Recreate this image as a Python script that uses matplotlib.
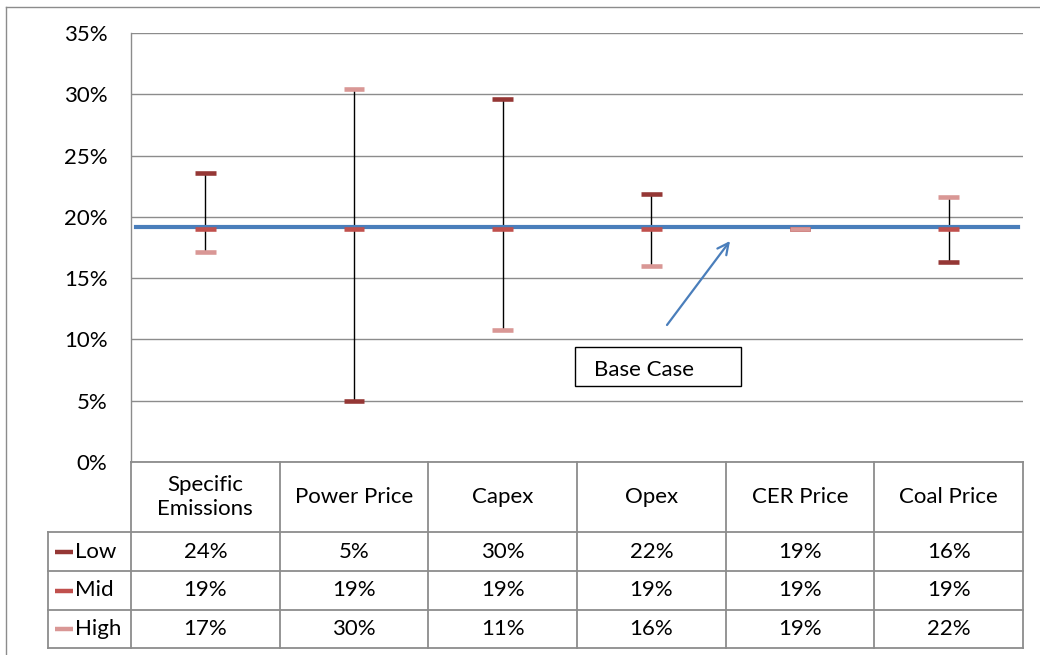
import matplotlib.pyplot as plt
from matplotlib.lines import Line2D
from matplotlib.patches import Rectangle

plt.rcParams['font.family'] = ['Lato', 'DejaVu Sans']

# sensitivity results (IRR) per driver
categories = ['Specific\nEmissions', 'Power Price', 'Capex', 'Opex', 'CER Price', 'Coal Price']
low = [0.236, 0.050, 0.296, 0.219, 0.190, 0.163]
mid = [0.190, 0.190, 0.190, 0.190, 0.190, 0.190]
high = [0.171, 0.304, 0.108, 0.160, 0.190, 0.216]
base_case = 0.192

series = [('Low', low, '#953735'), ('Mid', mid, '#c0504d'), ('High', high, '#d99795')]
yticks = [0, 0.05, 0.10, 0.15, 0.20, 0.25, 0.30, 0.35]

W, H = 1040, 655
grid_col = '#8c8c8c'
fs = 16


def fx(px):
    return px / W


def fy(py):
    return 1 - py / H


fig = plt.figure(figsize=(W / 100, H / 100), dpi=100)

# outer chart frame (runs off the right and bottom edge)
fig.add_artist(Line2D([fx(6), fx(6)], [fy(7), 0], color=grid_col, lw=1.0, transform=fig.transFigure))
fig.add_artist(Line2D([fx(6), 1], [fy(7), fy(7)], color=grid_col, lw=1.0, transform=fig.transFigure))

ax = fig.add_axes([fx(131), fy(462), fx(1023) - fx(131), fy(33) - fy(462)])
n = len(categories)
ax.set_xlim(0, n)
ax.set_ylim(0, 0.35)
ax.set_yticks(yticks)
ax.set_yticklabels(['{:.0f}%'.format(v * 100) for v in yticks], fontsize=fs)
ax.tick_params(axis='y', length=0, pad=17)
ax.set_xticks([])
for s in ['top', 'right', 'bottom']:
    ax.spines[s].set_visible(False)
ax.spines['left'].set_color(grid_col)
ax.spines['left'].set_linewidth(1.0)
for v in yticks[1:]:
    ax.axhline(v, color=grid_col, lw=1.0, zorder=1)
ax.axhline(0, color=grid_col, lw=1.0, zorder=1)

# high-low range lines
for i in range(n):
    lo = min(low[i], mid[i], high[i])
    hi = max(low[i], mid[i], high[i])
    if hi > lo:
        ax.vlines(i + 0.5, lo, hi, color='black', lw=1.0, zorder=2)

# base case line
ax.axhline(base_case, xmin=0.006, xmax=0.994, color='#4a7ebb', lw=3.0, zorder=3)

# low / mid / high dash markers
for name, vals, col in series:
    for i, v in enumerate(vals):
        ax.hlines(v, i + 0.5 - 0.07, i + 0.5 + 0.07, color=col, lw=3.3, zorder=4)

# data table below the plot
tab = fig.add_axes([fx(131), fy(648), fx(1023) - fx(131), fy(462) - fy(648)])
tab.set_xlim(0, n)
tab.set_ylim(186, 0)
tab.axis('off')
row_edges = [0, 70, 109, 148, 186]
leg_left = -(131 - 48) / ((1023 - 131) / n)

kw = dict(color=grid_col, lw=1.3, clip_on=False)
tab.plot([0, n], [0, 0], **kw)
for y in row_edges[1:]:
    tab.plot([leg_left, n], [y, y], **kw)
for i in range(n + 1):
    tab.plot([i, i], [0, 186], **kw)
tab.plot([leg_left, leg_left], [70, 186], **kw)

for i, c in enumerate(categories):
    tab.text(i + 0.5, 35, c, ha='center', va='center', fontsize=fs, linespacing=1.3)

for r, (name, vals, col) in enumerate(series):
    yc = (row_edges[r + 1] + row_edges[r + 2]) / 2
    tab.plot([leg_left + 0.05, leg_left + 0.165], [yc, yc], color=col, lw=3.2,
             solid_capstyle='butt', clip_on=False)
    tab.text(leg_left + 0.18, yc, name, ha='left', va='center', fontsize=fs)
    for i, v in enumerate(vals):
        tab.text(i + 0.5, yc, '{:.0f}%'.format(v * 100), ha='center', va='center', fontsize=fs)

# base case callout
fig.add_artist(Rectangle((fx(575), fy(386)), fx(741) - fx(575), fy(347) - fy(386),
                         fill=True, facecolor='white', edgecolor='black', lw=1.0,
                         transform=fig.transFigure))
fig.text(fx(594), fy(370), 'Base Case', ha='left', va='center', fontsize=fs)
ax.annotate('', xy=(fx(730), fy(241)), xytext=(fx(667), fy(325)),
            xycoords='figure fraction', textcoords='figure fraction',
            arrowprops=dict(arrowstyle='->', color='#4a7ebb', lw=1.6,
                            mutation_scale=20, shrinkA=0, shrinkB=0))

fig.savefig('out.png', dpi=100)
